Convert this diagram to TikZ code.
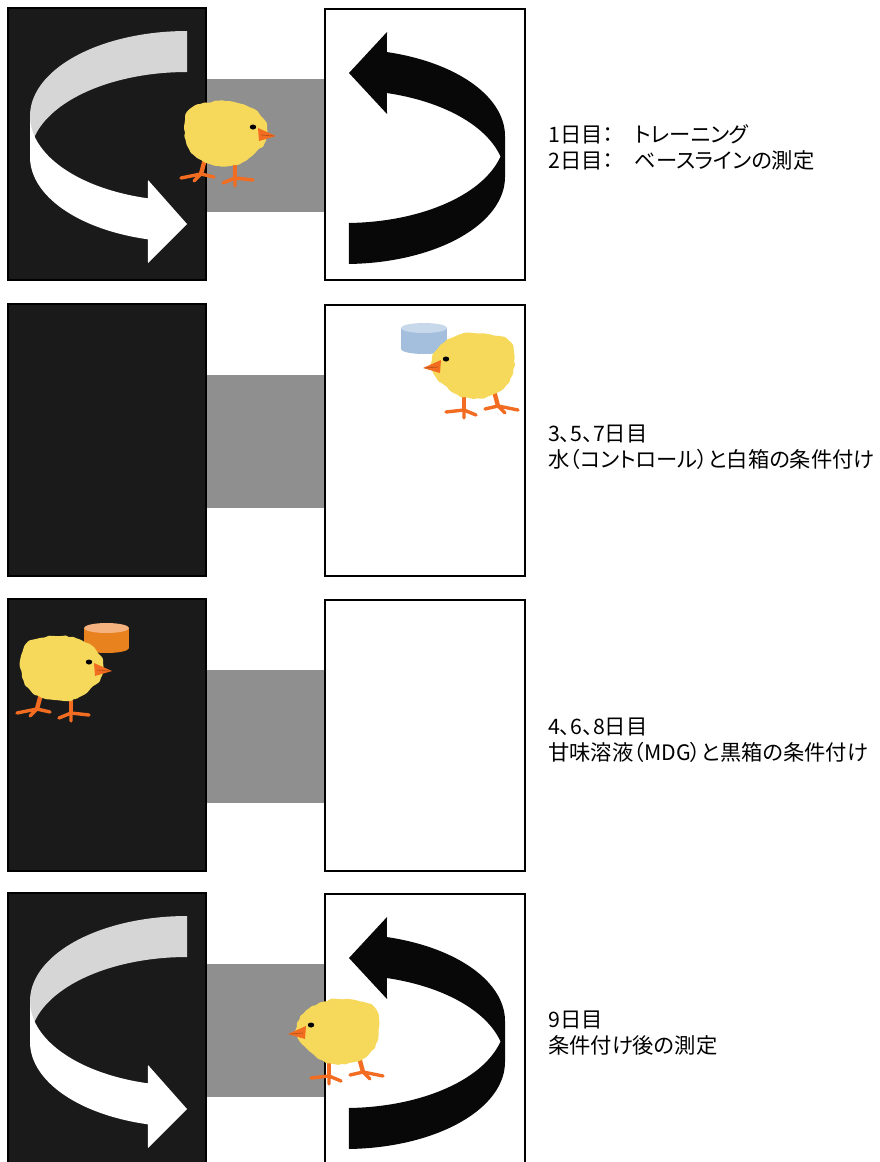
\documentclass[tikz,border=0pt]{standalone}
\usepackage{fontspec}
\newfontfamily\jpfont[RawFeature=+palt]{Noto Sans CJK JP}
\usetikzlibrary{decorations.pathmorphing}

\definecolor{boxblack}{HTML}{1A1A1A}
\definecolor{passagegray}{HTML}{8F8F8F}
\definecolor{ribbonback}{HTML}{D6D6D6}
\definecolor{ribbonblack}{HTML}{080808}
\definecolor{chickyellow}{HTML}{F6D95B}
\definecolor{chickorange}{HTML}{F26D21}
\definecolor{cupblue}{HTML}{A4BFDD}
\definecolor{cupbluetop}{HTML}{C8D8EB}
\definecolor{cuporange}{HTML}{E8821E}
\definecolor{cuporangetop}{HTML}{F5B27E}

\tikzset{
  darkbox/.style={fill=boxblack, draw=black, line width=1.2},
  lightbox/.style={fill=white, draw=black, line width=1.5},
  passage/.style={fill=passagegray},
  daytext/.style={anchor=base west, inner sep=0, font=\jpfont\fontsize{21.3}{26}\selectfont},
  leg/.style={draw=chickorange, line width=4.4, line cap=round},
  toe/.style={draw=chickorange, line width=3.4, line cap=round},
  fluff/.style={fill=chickyellow, decorate,
    decoration={random steps, segment length=3.5pt, amplitude=1.1pt}, rounded corners=1.2pt},
}

% one chamber pair: dark box, passage, light box (argument: vertical offset)
\newcommand\chambers[1]{%
  \fill[passage] (207,{#1+79}) rectangle (325,{#1+212});
  \filldraw[darkbox] (8,{#1+8}) rectangle (206,{#1+280});
  \filldraw[lightbox] (325,{#1+9}) rectangle (525,{#1+280});
}

% turning arrows drawn as ribbons around a cylinder (argument: vertical offset)
\newcommand\turnarrows[1]{%
  % dark box: back half of the ribbon
  \fill[ribbonback]
    plot[domain=180:270, samples=50, variable=\t] ({187+157*cos(\t)},{#1+116+85*sin(\t)})
    -- plot[domain=180:270, samples=50, variable=\t] ({187+157*cos(450-\t)},{#1+157+85*sin(450-\t)})
    -- cycle;
  % dark box: front half with the head pointing right
  \fill[white]
    plot[domain=104.4:180, samples=50, variable=\t] ({187+157*cos(\t)},{#1+157+85*sin(\t)})
    -- plot[domain=104.4:180, samples=50, variable=\t] ({187+157*cos(284.4-\t)},{#1+116+85*sin(284.4-\t)})
    -- (148,{#1+180}) -- (187,{#1+224}) -- (148,{#1+263}) -- cycle;
  % light box: black ribbon with the head pointing left
  \fill[ribbonblack]
    plot[domain=285.2:360, samples=50, variable=\t] ({345+160*cos(\t)},{#1+136+87*sin(\t)})
    -- plot[domain=0:88.57, samples=50, variable=\t] ({345+160*cos(\t)},{#1+177+87*sin(\t)})
    -- plot[domain=13.6:88.57, samples=50, variable=\t] ({345+160*cos(102.17-\t)},{#1+136+87*sin(102.17-\t)})
    -- plot[domain=285.2:346.4, samples=50, variable=\t] ({345+160*cos(631.6-\t)},{#1+177+87*sin(631.6-\t)})
    -- (387,{#1+114}) -- (349,{#1+73}) -- (387,{#1+32}) -- cycle;
}

% a chick: centre x, centre y, facing (1 = right, -1 = left)
\newcommand\drawchick[3]{%
  \begin{scope}[shift={(#1,#2)}, xscale=#3]
    \draw[leg] (-22,26) -- (-26,41);
    \draw[toe] (-26,41) -- (-46,45) (-26,41) -- (-33,48) (-26,41) -- (-13,44);
    \draw[leg] (8,30) -- (8,45);
    \draw[toe] (8,45) -- (-4,50) (8,45) -- (8,53) (8,45) -- (26,47);
    \fill[fluff] plot[smooth cycle, tension=0.65] coordinates {
      (-27,-29) (-2,-32) (18,-28) (33,-18) (40,-5) (38,9) (29,19) (18,28)
      (3,33) (-17,31) (-32,23) (-41,8) (-42,-12) (-37,-24)};
    \fill[chickorange] (31,-5) -- (49,3) -- (32,8) -- cycle;
    \draw[chickorange!75!black, line width=0.7] (34,2) -- (47,3);
    \fill[black] (26,-6) ellipse [x radius=3.2, y radius=2.5];
  \end{scope}
}

% a drinking cup: centre x, top y, bottom y, radius x, body colour, top colour
\newcommand\drawcup[6]{%
  \fill[#5] ({#1-#4},#2) rectangle ({#1+#4},#3);
  \fill[#5] (#1,#3) ellipse [x radius=#4, y radius=5];
  \fill[#6] (#1,#2) ellipse [x radius=#4, y radius=5];
}

\begin{document}
\begin{tikzpicture}[x=1pt, y=-1pt]
  \useasboundingbox (0,0) rectangle (880,1162);
  \clip (0,0) rectangle (880,1162);
  \pgfmathsetseed{11}

  % chamber pairs
  \chambers{0}
  \chambers{296}
  \chambers{591}
  \chambers{885}

  % turning arrows in the baseline and test sessions
  \turnarrows{0}
  \turnarrows{885}

  % cups and chicks
  \drawcup{424}{328}{349}{23}{cupblue}{cupbluetop}
  \drawcup{106.5}{628}{648}{22.5}{cuporange}{cuporangetop}
  \drawchick{227}{133}{1}
  \drawchick{472}{365}{-1}
  \drawchick{63}{668}{1}
  \drawchick{337}{1031}{-1}

  % session descriptions
  \node[daytext] (s1a) at (548,142) {1日目：　トレーニング};
  \node[daytext] (s1b) at (548,168) {2日目：　ベースラインの測定};
  \node[daytext] (s2a) at (548,441) {3、5、7日目};
  \node[daytext] (s2b) at (548,467) {水（コントロール）と白箱の条件付け};
  \node[daytext] (s3a) at (548,734) {4、6、8日目};
  \node[daytext] (s3b) at (548,760) {甘味溶液（MDG）と黒箱の条件付け};
  \node[daytext] (s4a) at (548,1027) {9日目};
  \node[daytext] (s4b) at (548,1053) {条件付け後の測定};
\end{tikzpicture}
\end{document}
